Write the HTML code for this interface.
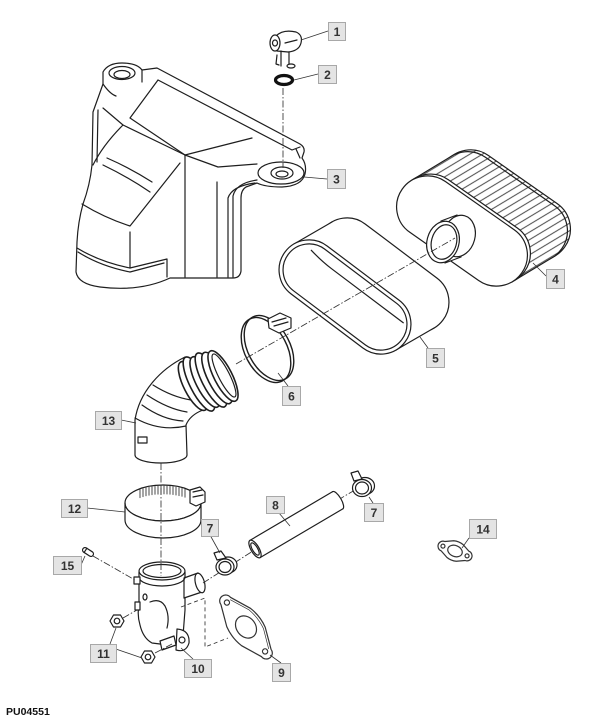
<!DOCTYPE html>
<html><head><meta charset="utf-8"><style>
html,body{margin:0;padding:0;background:#fff;}
svg{display:block;}
.lb rect{fill:#e4e4e4;stroke:#a8a8a8;stroke-width:1;}
.lb text{font-family:"Liberation Sans",Arial,sans-serif;font-weight:bold;font-size:12px;fill:#333;text-anchor:middle;}
</style></head><body>
<svg width="609" height="720" viewBox="0 0 609 720" xmlns="http://www.w3.org/2000/svg">
<defs>
<pattern id="pl" patternUnits="userSpaceOnUse" width="10" height="6.5" patternTransform="rotate(-66)">
<rect width="10" height="6.5" fill="#fff"/><line x1="0" y1="3.2" x2="10" y2="3.2" stroke="#333" stroke-width="0.9"/>
</pattern>
</defs>
<rect width="609" height="720" fill="#fff"/>

<g fill="none" stroke="#1e1e1e" stroke-width="1.2" stroke-linejoin="round" stroke-linecap="round">

<!-- HOUSING -->
<path fill="#fff" d="M93,112 L103,84 L103,72 Q108,63 122,63 Q137,63 142,70 L157,68 L300,144 Q305,147 304,152 L302,158 Q307,165 305,174 Q302,186 282,187 Q265,187 257,183 L246,187 Q241,190 241,198 L241,271 Q240,278 233,278 L170,278 Q140,292 100,287 Q78,284 76,272 L77,242 Q78,222 83,204 Q90,185 92,165 Z"/>
<path d="M98,110 L97,162"/>
<ellipse cx="122" cy="73" rx="13" ry="6.5"/>
<ellipse cx="122" cy="74.5" rx="8" ry="4"/>
<path d="M103,84 Q110,94 116,96"/>
<path d="M142,70 L142,82"/>
<path d="M158,80 L292,150 L300,147"/>
<path d="M158,80 L130,118 L185,155 L252,138"/>
<path d="M103,108 L123,125 L185,155"/>
<path d="M123,125 Q103,145 93,165"/>
<path d="M82,204 Q105,218 130,226 L180,163"/>
<path d="M130,232 L130,268"/>
<path d="M77,248 Q100,262 130,268 L167,259 L167,277"/>
<path d="M78,252 Q100,266 130,272 L164,263"/>
<path d="M185,155 L185,277"/>
<path d="M185,155 L218,167 L257,164"/>
<path d="M217,182 L217,277"/>
<path d="M255,183 Q232,186 228,198 L228,277"/>
<path d="M257,180 Q236,183 233,196 L233,277"/>
<path d="M107,158 Q130,168 152,182"/>
<path d="M103,165 Q128,177 150,192"/>
<ellipse cx="281" cy="173" rx="23" ry="11"/>
<ellipse cx="282" cy="173" rx="11" ry="6"/>
<ellipse cx="282" cy="174" rx="6" ry="3"/>
<path d="M296,149 L300,158"/>

<!-- PART 1 cap -->
<path fill="#fff" d="M276,36 Q283,29 296,32 Q303,35 301,43 Q299,51 288,52 L277,51 Z"/>
<ellipse cx="275" cy="43" rx="5" ry="8" fill="#fff"/>
<ellipse cx="275" cy="43" rx="2.5" ry="3"/>
<path d="M285,43 L297,40"/>
<path d="M281,51 L281,66 M289,52 L289,64"/>
<ellipse cx="291" cy="66" rx="4" ry="2" fill="#fff"/>
<path d="M277,55 L276,64 L279,65"/>

<!-- PART 2 washer -->
<ellipse cx="284" cy="80" rx="8.5" ry="4.5" fill="#fff" stroke="#111" stroke-width="3.2"/>

<!-- PART 4 filter -->
<g transform="translate(462,231) rotate(35)">
<rect x="-52.7" y="-77" width="146" height="62" rx="31" fill="url(#pl)"/>
<rect x="-54.1" y="-73.8" width="146" height="62" rx="31"/>
<polygon points="-70.4,-12.5 -50.1,-58.5 90.7,-33.5 70.4,12.5" fill="url(#pl)" stroke="none"/>
<path d="M-70.4,-12.5 L-50.1,-58.5 M70.4,12.5 L90.7,-33.5"/>
<rect x="-71.6" y="-34.2" width="146" height="62" rx="31" fill="#fff"/>
<rect x="-73" y="-31" width="146" height="62" rx="31" fill="#fff"/>
</g>
<polygon points="441,221 457,214 461,257 445,263" fill="#fff" stroke="none"/>
<ellipse cx="459" cy="236" rx="16" ry="21" transform="rotate(15 459 236)" fill="#fff"/>
<path d="M441,221 L457,215 M445,263 L461,257"/>
<ellipse cx="443" cy="242" rx="16" ry="21" transform="rotate(15 443 242)" fill="#fff"/>
<ellipse cx="444" cy="242" rx="12.5" ry="17.5" transform="rotate(15 444 242)"/>

<!-- PART 5 sleeve -->
<g transform="translate(383,275) rotate(37)">
<rect x="-75" y="-30" width="150" height="60" rx="30" fill="#fff"/>
</g>
<polygon points="294,244 332,222 434,328 396,350" fill="#fff" stroke="none"/>
<path d="M294,244 L332,222 M396,350 L434,328"/>
<g transform="translate(345,297) rotate(37)">
<rect x="-75" y="-30" width="150" height="60" rx="30" fill="#fff"/>
<rect x="-71" y="-26" width="142" height="52" rx="26"/>
<path d="M-55,-17 Q-40,-14.5 -28,-14.5 L62,-14.5"/>
</g>

<!-- PART 6 clamp -->
<ellipse cx="266" cy="350" rx="21" ry="35" transform="rotate(-28 266 350)" stroke-width="1.4"/>
<ellipse cx="269" cy="348" rx="21" ry="35" transform="rotate(-28 269 348)" stroke-width="1.4"/>
<path fill="#fff" d="M268,319 L280,313 L291,318 L291,328 L279,333 L269,328 Z"/>
<path d="M272,322 L286,318 M274,326 L288,322"/>

<!-- PART 13 elbow -->
<path fill="#fff" d="M135,455 L135,420 Q138,400 152,383 Q165,367 185,357 L203,410 Q190,415 186,425 L187,455 A26 8 0 0 1 135,455 Z"/>
<path d="M135,418 Q160,432 186,426"/>
<path d="M142,405 Q163,420 183,421"/>
<path d="M147,395 Q168,409 187,412"/>
<path d="M153,385 Q172,397 191,400"/>
<path fill="#fff" d="M138,437 L147,437 L147,443 L138,443 Z"/>
<g fill="#fff" stroke-width="1.6">
<ellipse cx="193" cy="386" rx="27" ry="9" transform="rotate(63 193 386)"/>
<ellipse cx="199" cy="384" rx="30" ry="9" transform="rotate(63 199 384)"/>
<ellipse cx="205" cy="382" rx="28" ry="9" transform="rotate(63 205 382)"/>
<ellipse cx="211" cy="380" rx="30" ry="9" transform="rotate(63 211 380)"/>
<ellipse cx="217" cy="378" rx="28.5" ry="9" transform="rotate(63 217 378)"/>
<ellipse cx="223" cy="376" rx="28" ry="9" transform="rotate(63 223 376)"/>
</g>
<ellipse cx="224" cy="375.5" rx="24" ry="5.5" transform="rotate(63 224 375.5)"/>

<!-- PART 12 clamp -->
<ellipse cx="163" cy="503" rx="38" ry="18" fill="#fff"/>
<path stroke-width="0.8" d="M140,489.7v8 M143,488.7v8 M146,487.9v8 M149,487.3v8 M152,486.8v8 M155,486.4v8 M158,486.2v8 M161,486v8 M164,486v8 M167,486.1v8 M170,486.3v8 M173,486.6v8 M176,487.1v8 M179,487.7v8 M182,488.4v8 M185,489.3v8"/>
<path fill="#fff" d="M125,503 A38 18 0 0 0 201,503 L201,520 A38 18 0 0 1 125,520 Z"/>
<path fill="#fff" d="M190,490 L200,487 L205,492 L205,502 L196,506 L190,503 Z"/>
<path d="M193,492 L202,490 M193,497 L203,495"/>

<!-- PART 10 fitting -->
<path fill="#fff" d="M139,572 L139,605 Q137,615 140,625 Q143,638 152,643 L168,645 Q178,644 183,636 L185,610 L185,572 Z"/>
<path fill="#fff" d="M184,578 L198,573 L202,592 L184,598 Z"/>
<ellipse cx="200" cy="583" rx="4.5" ry="10" transform="rotate(-15 200 583)" fill="#fff"/>
<ellipse cx="162" cy="571" rx="23" ry="9" fill="#fff"/>
<ellipse cx="162" cy="571" rx="19" ry="6.5"/>
<path d="M139,577 A23 9 0 0 0 185,577"/>
<rect x="134" y="577" width="6" height="7" fill="#fff"/>
<rect x="135" y="602" width="5" height="8" fill="#fff"/>
<ellipse cx="145" cy="597" rx="2" ry="3"/>
<path d="M150,602 Q160,598 165,606 Q170,616 167,628"/>
<path fill="#fff" d="M177,629 Q190,630 189,643 Q186,653 176,650 Z"/>
<circle cx="182" cy="640" r="3"/>
<path fill="#fff" d="M160,641 L174,636 L176,645 L162,650 Z"/>

<!-- PART 11 nuts -->
<polygon fill="#fff" points="124,621 120.5,627 113.5,627 110,621 113.5,615 120.5,615"/>
<circle cx="117" cy="621" r="2.8"/>
<polygon fill="#fff" points="155,657 151.5,663 144.5,663 141,657 144.5,651 151.5,651"/>
<circle cx="148" cy="657" r="2.8"/>

<!-- PART 9 gasket -->
<g transform="translate(246,627) rotate(52)" stroke="#333">
<path fill="#fff" d="M-33,-6 L-12,-15 Q0,-18 12,-15 L33,-6 A6 6 0 0 1 33,6 L12,15 Q0,18 -12,15 L-33,6 A6 6 0 0 1 -33,-6 Z"/>
<path stroke-width="0.7" d="M-31,-4.5 L-12,-12.8 Q0,-15.5 12,-12.8 L31,-4.5"/>
<circle cx="-31" cy="0" r="2.6"/>
<circle cx="31" cy="0" r="2.6"/>
<ellipse cx="0" cy="0" rx="12" ry="9.5"/>
</g>

<!-- PART 14 gasket -->
<g transform="translate(455,551) rotate(22)" stroke="#333">
<path fill="#fff" d="M-13,-5 L-5,-9 Q0,-10.5 5,-9 L13,-5 A5 5 0 0 1 13,5 L5,9 Q0,10.5 -5,9 L-13,5 A5 5 0 0 1 -13,-5 Z"/>
<circle cx="-13" cy="0" r="2"/>
<circle cx="13" cy="0" r="2"/>
<ellipse cx="0" cy="0" rx="7.5" ry="5.5"/>
</g>

<!-- PART 15 pin -->
<g transform="translate(88,552) rotate(33)">
<rect x="-6" y="-2.5" width="12" height="5" rx="2.5" fill="#fff"/>
<path d="M-3,-2.5 L-3,2.5"/>
</g>
</g>

<!-- dash-dot center lines -->
<g fill="none" stroke="#333" stroke-width="0.85" stroke-dasharray="7 2 1.5 2">
<path d="M283,88 L283,168"/>
<path d="M236,364 L455,238"/>
<path d="M161,463 L161,576"/>
<path d="M203,583 L256,549"/>
<path d="M338,500 L360,487"/>
<path d="M93,556 L135,580"/>
<path d="M123,618 L137,610"/>
<path d="M155,653 L172,644"/>
</g>
<g fill="none" stroke="#333" stroke-width="0.85" stroke-dasharray="4 3">
<path d="M181,607 L205,598 L205,647 L228,638"/>
</g>

<g fill="none" stroke="#1e1e1e" stroke-width="1.2" stroke-linejoin="round" stroke-linecap="round">
<!-- PART 8 hose -->
<g transform="translate(255,549) rotate(-30.5)">
<rect x="0" y="-10" width="96" height="20" fill="#fff" stroke="none"/>
<path d="M0,-10 L96,-10 M0,10 L96,10"/>
<path d="M96,-10 A3.5 10 0 0 1 96,10" fill="#fff"/>
<ellipse cx="0" cy="0" rx="4" ry="10" fill="#fff"/>
<ellipse cx="0" cy="0" rx="2.6" ry="7"/>
</g>
<!-- PART 7 clamps -->
<ellipse cx="228" cy="565" rx="9" ry="8" fill="#fff"/>
<ellipse cx="225" cy="567" rx="9" ry="8" fill="#fff"/>
<ellipse cx="225" cy="567" rx="6" ry="5.5"/>
<path fill="#fff" d="M217,560 L214,553 L221,551 L226,558 Z"/>
<ellipse cx="365" cy="486" rx="9.5" ry="8.5" fill="#fff"/>
<ellipse cx="362" cy="488" rx="9.5" ry="8.5" fill="#fff"/>
<ellipse cx="362" cy="488" rx="6.5" ry="6"/>
<path fill="#fff" d="M354,481 L351,473 L358,471 L362,479 Z"/>
</g>

<!-- leader lines -->
<g fill="none" stroke="#333" stroke-width="0.8">
<path d="M301,40 L328,31"/>
<path d="M294,80 L318,74"/>
<path d="M304,177 L327,179"/>
<path d="M533,263 L546,276"/>
<path d="M420,337 L428,348"/>
<path d="M278,373 L288,386"/>
<path d="M121,420 L136,423"/>
<path d="M87,508 L125,512"/>
<path d="M279,513 L290,526"/>
<path d="M210,535 L220,553"/>
<path d="M369,497 L373,503"/>
<path d="M469,538 L462,548"/>
<path d="M81,565 L85,556"/>
<path d="M110,644 L116,628 M110,647 L142,658"/>
<path d="M193,659 L181,648"/>
<path d="M281,663 L270,655"/>
</g>

<!-- labels -->
<g class="lb">
<rect x="328.5" y="22.5" width="17" height="18"/><text x="337" y="36">1</text>
<rect x="318.5" y="65.5" width="18" height="18"/><text x="327.5" y="79">2</text>
<rect x="327.5" y="169.5" width="18" height="19"/><text x="336.5" y="183.5">3</text>
<rect x="546.5" y="269.5" width="18" height="19"/><text x="555.5" y="283.5">4</text>
<rect x="426.5" y="348.5" width="18" height="19"/><text x="435.5" y="362.5">5</text>
<rect x="282.5" y="386.5" width="18" height="19"/><text x="291.5" y="400.5">6</text>
<rect x="95.5" y="411.5" width="26" height="18"/><text x="108.5" y="425">13</text>
<rect x="61.5" y="499.5" width="26" height="18"/><text x="74.5" y="513">12</text>
<rect x="266.5" y="496.5" width="18" height="17"/><text x="275.5" y="509.5">8</text>
<rect x="201.5" y="519.5" width="17" height="17"/><text x="210" y="532.5">7</text>
<rect x="364.5" y="503.5" width="19" height="18"/><text x="374" y="517">7</text>
<rect x="469.5" y="519.5" width="27" height="19"/><text x="483" y="533.5">14</text>
<rect x="53.5" y="556.5" width="28" height="18"/><text x="67.5" y="570">15</text>
<rect x="90.5" y="644.5" width="26" height="18"/><text x="103.5" y="658">11</text>
<rect x="184.5" y="659.5" width="27" height="18"/><text x="198" y="673">10</text>
<rect x="272.5" y="663.5" width="18" height="18"/><text x="281.5" y="677">9</text>
</g>
<text x="6" y="715" font-family="Liberation Sans, Arial, sans-serif" font-weight="bold" font-size="10.5" fill="#111">PU04551</text>
</svg>
</body></html>
